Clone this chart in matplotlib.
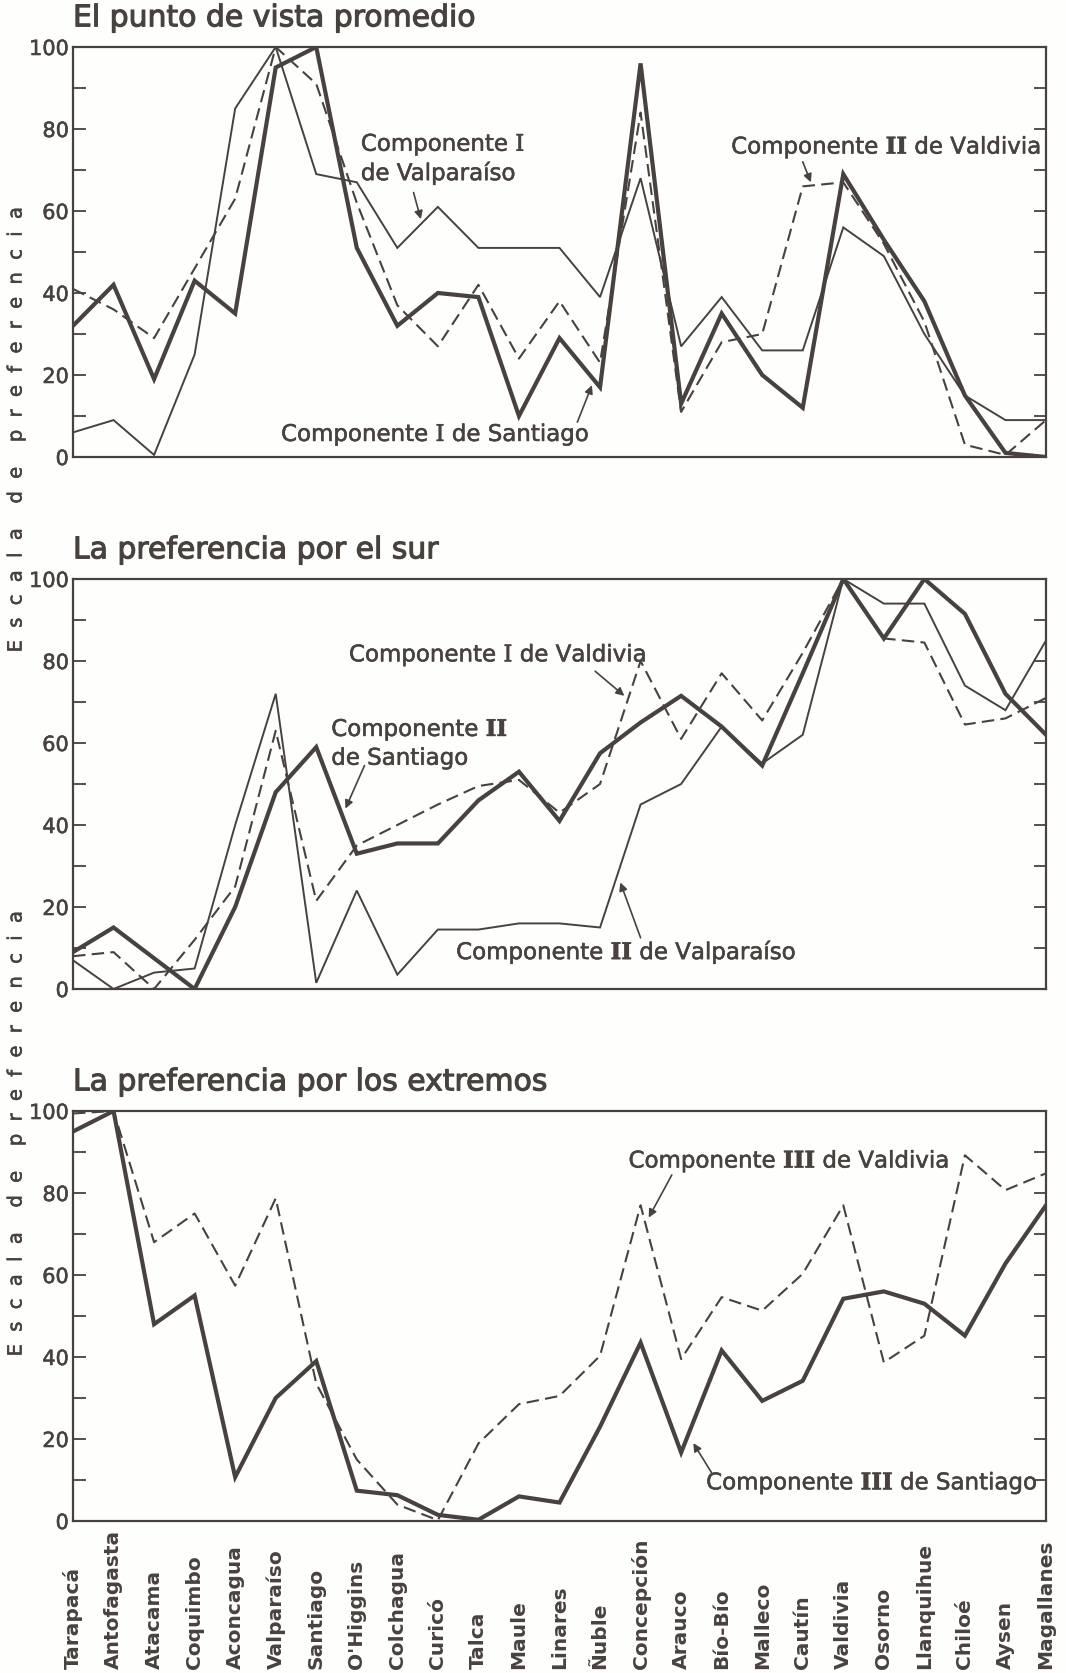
import matplotlib
matplotlib.use('Agg')
import matplotlib.pyplot as plt
import matplotlib.patheffects as pe
from matplotlib.transforms import blended_transform_factory

plt.rcParams['mathtext.fontset'] = 'dejavuserif'

INK = '#48423f'

provincias = ['Tarapacá', 'Antofagasta', 'Atacama', 'Coquimbo', 'Aconcagua',
              'Valparaíso', 'Santiago', "O'Higgins", 'Colchagua', 'Curicó',
              'Talca', 'Maule', 'Linares', 'Ñuble', 'Concepción', 'Arauco',
              'Bío-Bío', 'Malleco', 'Cautín', 'Valdivia', 'Osorno',
              'Llanquihue', 'Chiloé', 'Aysen', 'Magallanes']

# El punto de vista promedio
valparaiso_I = [6, 9, 0.5, 25, 85, 100, 69, 67, 51, 61, 51, 51, 51, 39, 68,
                27, 39, 26, 26, 56, 49, 30, 15, 9, 9]
santiago_I = [32, 42, 19, 43, 35, 95, 100, 51, 32, 40, 39, 10, 29, 17, 96,
              13, 35, 20, 12, 69, 53, 38, 15, 1, 0]
valdivia_II = [41, 36, 29, 46, 63, 100, 91, 62, 37, 27, 42, 24, 38, 23, 84,
               11, 28, 30, 66, 67, 52, 33, 3, 0.5, 9]

# La preferencia por el sur
valparaiso_II = [7, 0, 4, 5, 40, 72, 1.5, 24, 3.5, 14.5, 14.5, 16, 16, 15, 45,
                 50, 64, 55, 62, 100, 94, 94, 74, 68, 85]
santiago_II = [9, 15, 7.5, 0, 20, 48, 59, 33, 35.5, 35.5, 46, 53, 41, 57.5, 65,
               71.5, 64, 54.5, 77, 100, 85.5, 100, 91.5, 72, 62]
valdivia_I = [8, 9, 0, 12, 25, 63, 21.5, 35, 40, 45, 49.5, 51, 43, 50, 80,
              61, 77, 65.5, 82, 100, 85.5, 84.5, 64.5, 66, 71]

# La preferencia por los extremos
santiago_III = [95, 100, 48, 55, 10.7, 30, 39, 7.4, 6.3, 1.5, 0.3, 6, 4.5, 23,
                43.5, 16.7, 41.6, 29.3, 34.2, 54.2, 56, 53, 45.2, 62.8, 77]
valdivia_III = [99.4, 100, 68, 75, 57.4, 78.7, 33.5, 15, 4, 0.2, 18.9, 28.5,
                30.5, 40.3, 77, 39.5, 54.6, 51.3, 60.3, 77, 38.7, 45.2, 89.2,
                80.7, 84.8]

x = list(range(len(provincias)))

THIN = dict(color=INK, lw=1.4, solid_joinstyle='miter')
THICK = dict(color=INK, lw=3.0, solid_joinstyle='miter')
DASHED = dict(color=INK, lw=1.5, linestyle=(0, (6, 3)))
ARROW = dict(arrowstyle='-|>', color=INK, lw=1.2, mutation_scale=12,
             shrinkA=0, shrinkB=0)
HEAVY = [pe.withStroke(linewidth=0.4, foreground=INK)]
TXT = dict(color=INK, fontsize=16.5, ha='center', va='center',
           path_effects=HEAVY)

fig = plt.figure(figsize=(10.66, 16.73), dpi=100)
fig.patch.set_facecolor('#fefefd')

W = 1066.0
H = 1673.0
left = 73 / W
width = (1046 - 73) / W
height = 410 / H


def panel(top, title):
    ax = fig.add_axes([left, 1 - (top + 410) / H, width, height])
    ax.set_facecolor('none')
    ax.set_xlim(0, 24)
    ax.set_ylim(0, 100)
    ax.set_xticks([])
    ax.set_yticks(range(0, 101, 10))
    ax.set_yticklabels([str(v) if v % 20 == 0 else '' for v in range(0, 101, 10)])
    ax.tick_params(axis='y', direction='in', length=9, width=1.3, left=True,
                   right=True, labelsize=15, labelcolor=INK, color=INK, pad=3)
    for lab in ax.get_yticklabels():
        lab.set_path_effects(HEAVY)
    for s in ax.spines.values():
        s.set_color(INK)
        s.set_linewidth(1.6)
    ax.annotate(title, xy=(0, 1), xycoords='axes fraction', xytext=(0, 21),
                textcoords='offset points', ha='left', va='center',
                fontsize=21.5, color=INK,
                path_effects=[pe.withStroke(linewidth=0.8, foreground=INK)])
    return ax


ax1 = panel(47, 'El punto de vista promedio')
ax1.plot(x, valparaiso_I, **THIN)
ax1.plot(x, valdivia_II, **DASHED)
ax1.plot(x, santiago_I, **THICK)
ax1.text(7.1, 72.8, 'Componente $\\mathrm{I}$\nde Valparaíso',
         **{**TXT, 'ha': 'left'})
ax1.annotate('', xy=(8.58, 58), xytext=(8.4, 64.5), arrowprops=ARROW)
ax1.text(20.05, 75.6, 'Componente $\\mathbf{II}$ de Valdivia', **TXT)
ax1.annotate('', xy=(18.2, 67), xytext=(18.0, 72), arrowprops=ARROW)
ax1.text(8.93, 5.5, 'Componente $\\mathrm{I}$ de Santiago', **TXT)
ax1.annotate('', xy=(12.8, 17.5), xytext=(12.44, 8.5), arrowprops=ARROW)

ax2 = panel(579, 'La preferencia por el sur')
ax2.plot(x, valparaiso_II, **THIN)
ax2.plot(x, valdivia_I, **DASHED)
ax2.plot(x, santiago_II, **THICK)
ax2.text(10.47, 81.5, 'Componente $\\mathrm{I}$ de Valdivia', **TXT)
ax2.annotate('', xy=(13.6, 71.5), xytext=(12.88, 77.5), arrowprops=ARROW)
ax2.text(6.37, 59.9, 'Componente $\\mathbf{II}$\nde Santiago',
         **{**TXT, 'ha': 'left'})
ax2.annotate('', xy=(6.72, 44), xytext=(7.19, 54.5), arrowprops=ARROW)
ax2.text(13.64, 9, 'Componente $\\mathbf{II}$ de Valparaíso', **TXT)
ax2.annotate('', xy=(13.5, 26), xytext=(14.0, 12.5), arrowprops=ARROW)

ax3 = panel(1111, 'La preferencia por los extremos')
ax3.plot(x, valdivia_III, **DASHED)
ax3.plot(x, santiago_III, **THICK)
ax3.text(17.65, 87.8, 'Componente $\\mathbf{III}$ de Valdivia', **TXT)
ax3.annotate('', xy=(14.2, 74), xytext=(14.77, 84.4), arrowprops=ARROW)
ax3.text(19.7, 9.3, 'Componente $\\mathbf{III}$ de Santiago', **TXT)
ax3.annotate('', xy=(15.3, 19), xytext=(15.75, 11.8), arrowprops=ARROW)

# province names, read from the bottom up
trans = blended_transform_factory(ax3.transData, ax3.transAxes)
for i, name in enumerate(provincias):
    ax3.text(x[i], (1521 - 1669) / 410, name, transform=trans, rotation=90,
             ha='center', va='bottom', fontsize=14.5, fontweight='bold',
             color=INK)

ylabel = '  '.join('  '.join(w) for w in ['Escala', 'de', 'preferencia'])
ylabel = ylabel.replace('a  d  e  p', 'a    d  e    p')
for yc in (428, 1132):
    fig.text(16 / W, 1 - yc / H, ylabel, rotation=90, ha='center',
             va='center', fontsize=14, color=INK, path_effects=HEAVY)

fig.savefig('out.png', dpi=100, facecolor=fig.get_facecolor())
